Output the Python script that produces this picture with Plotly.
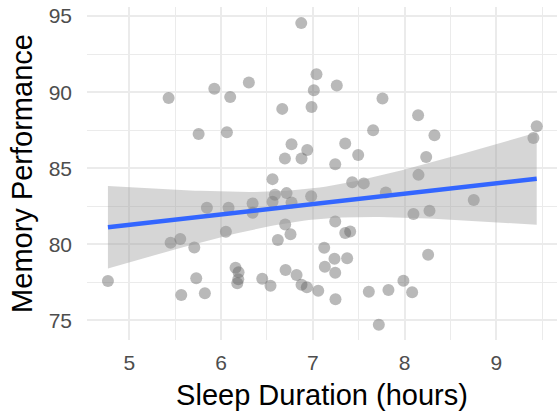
import numpy as np
import plotly.graph_objects as go

sleep_hours = [6.874, 7.040, 6.303, 5.927, 5.429, 6.100, 7.011, 6.986, 6.667, 5.756,
               6.064, 6.768, 6.939, 6.696, 6.877, 7.261, 7.759, 8.147, 7.657, 8.325,
               7.353, 7.494, 8.235, 7.244, 9.439, 9.403, 4.768, 5.451, 5.556, 5.709,
               5.846, 6.082, 6.053, 6.344, 6.344, 6.561, 6.587, 6.714, 6.561, 6.768,
               6.982, 6.699, 6.757, 6.619, 7.124, 7.131, 6.158, 6.191, 6.188, 6.177,
               5.730, 5.567, 5.824, 6.449, 6.539, 6.703, 6.823, 6.877, 6.935, 7.059,
               7.429, 7.555, 7.795, 8.151, 8.753, 8.096, 8.271, 7.244, 7.353, 7.407,
               7.236, 7.374, 7.244, 8.256, 7.247, 7.610, 7.824, 7.987, 8.082, 7.719]
memory_score = [94.54, 91.17, 90.63, 90.23, 89.62, 89.68, 90.12, 89.03, 88.90, 87.25,
                87.36, 86.58, 86.20, 85.64, 85.64, 90.43, 89.58, 88.48, 87.50, 87.17,
                86.62, 85.87, 85.74, 85.26, 87.76, 86.99, 77.58, 80.10, 80.34, 79.79,
                82.39, 82.39, 80.82, 82.68, 82.07, 84.28, 83.25, 83.36, 82.79, 82.75,
                83.16, 81.30, 80.65, 80.27, 79.77, 78.52, 78.45, 78.15, 77.69, 77.43,
                77.76, 76.66, 76.77, 77.73, 77.27, 78.30, 77.97, 77.34, 77.17, 76.94,
                84.08, 84.00, 83.40, 84.56, 82.90, 81.98, 82.20, 81.50, 80.73, 80.84,
                79.04, 79.07, 78.13, 79.31, 76.38, 76.88, 76.99, 77.60, 76.84, 74.71]

x_tick_vals = [5, 6, 7, 8, 9]
y_tick_vals = [75, 80, 85, 90, 95]

# linear model fit with 95% confidence band (like geom_smooth(method = "lm"))
x = np.array(sleep_hours)
y = np.array(memory_score)
n = len(x)
slope, intercept = np.polyfit(x, y, 1)
resid = y - (intercept + slope * x)
s = np.sqrt(np.sum(resid ** 2) / (n - 2))
xbar = x.mean()
sxx = np.sum((x - xbar) ** 2)
t_crit = 1.9908  # t(0.975, df=78)
xs = np.linspace(x.min(), x.max(), 80)
ys = intercept + slope * xs
se = s * np.sqrt(1 / n + (xs - xbar) ** 2 / sxx)
upper = ys + t_crit * se
lower = ys - t_crit * se

fig = go.Figure()
fig.add_trace(go.Scatter(
    x=x, y=y, mode="markers",
    marker=dict(size=12, color="rgba(100,100,100,0.45)", line=dict(width=0)),
    hoverinfo="skip", showlegend=False))
fig.add_trace(go.Scatter(
    x=np.concatenate([xs, xs[::-1]]), y=np.concatenate([upper, lower[::-1]]),
    fill="toself", fillcolor="rgba(153,153,153,0.4)", line=dict(width=0),
    mode="lines", hoverinfo="skip", showlegend=False))
fig.add_trace(go.Scatter(
    x=xs, y=ys, mode="lines", line=dict(color="#3366FF", width=4.5),
    hoverinfo="skip", showlegend=False))

font_family = "Liberation Sans, Arial, sans-serif"
fig.update_layout(
    width=557, height=411,
    margin=dict(l=87, r=0, t=7, b=71),
    paper_bgcolor="white", plot_bgcolor="white",
    font=dict(family=font_family),
    xaxis=dict(
        range=[4.54, 9.66], tickvals=x_tick_vals, ticktext=[str(v) for v in x_tick_vals],
        showgrid=True, gridcolor="#EBEBEB", gridwidth=2,
        minor=dict(dtick=0.5, tick0=4.5, showgrid=True, gridcolor="#EBEBEB", gridwidth=1.1),
        zeroline=False, showline=False, ticks="", automargin=False,
        tickfont=dict(size=21, color="#4D4D4D"),
        ticklabelstandoff=8,
        title=dict(text="Sleep Duration (hours)", font=dict(size=29, color="black"), standoff=12),
    ),
    yaxis=dict(
        range=[73.7, 95.6], tickvals=y_tick_vals, ticktext=[str(v) for v in y_tick_vals],
        showgrid=True, gridcolor="#EBEBEB", gridwidth=2,
        minor=dict(dtick=2.5, tick0=72.5, showgrid=True, gridcolor="#EBEBEB", gridwidth=1.1),
        zeroline=False, showline=False, ticks="", automargin=False,
        tickfont=dict(size=21, color="#4D4D4D"),
        ticklabelstandoff=14,
        title=dict(text="Memory Performance", font=dict(size=29, color="black"), standoff=7),
    ),
)
fig.write_html("out.html", config={"displayModeBar": False},
               post_script="document.body.style.margin='0';")
